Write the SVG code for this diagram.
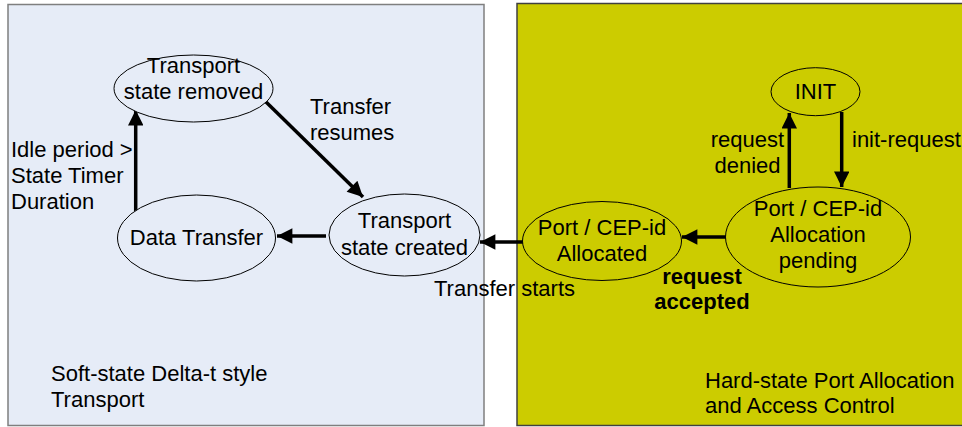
<svg xmlns="http://www.w3.org/2000/svg" width="962" height="427" viewBox="0 0 962 427">
<defs>
<marker id="ah" viewBox="0 0 10 10" refX="10" refY="5" markerWidth="5" markerHeight="4.4" markerUnits="strokeWidth" orient="auto">
<path d="M0,0 L10,5 L0,10 z" fill="#000"/>
</marker>
<style>
text{font-family:"Liberation Sans",Arial,sans-serif;font-size:22px;fill:#000}
.c{text-anchor:middle}
.b{font-weight:bold}
.node{stroke:#000;stroke-width:1}
.soft{fill:#e6ecf7}
.hard{fill:#cccc00}
.edge{stroke:#000;stroke-width:3.5;fill:none;marker-end:url(#ah)}
</style>
</defs>
<rect width="962" height="427" fill="#fff"/>
<g id="panel-soft">
<rect x="8" y="4.5" width="476" height="421" fill="#e6ecf7" stroke="#7f7f7f" stroke-width="1.5"/>
<text x="51" y="381">Soft-state Delta-t style</text>
<text x="51" y="407">Transport</text>
</g>
<g id="panel-hard">
<rect x="517" y="3.5" width="460" height="422" fill="#cccc00" stroke="#404040" stroke-width="1.5"/>
<text x="705" y="388">Hard-state Port Allocation</text>
<text x="705" y="413">and Access Control</text>
</g>
<g id="connectors">
<line class="edge" x1="135.7" y1="211" x2="135.7" y2="110"/>
<line class="edge" x1="264" y1="100" x2="363" y2="197"/>
<line class="edge" x1="326" y1="236" x2="277" y2="236"/>
<line class="edge" x1="523" y1="242" x2="480" y2="242"/>
<line class="edge" x1="726.5" y1="237" x2="682" y2="237"/>
<line class="edge" x1="789.3" y1="188" x2="789.3" y2="113"/>
<line class="edge" x1="841.7" y1="112" x2="841.7" y2="187"/>
<text x="11" y="157">Idle period &gt;</text>
<text x="11" y="183">State Timer</text>
<text x="11" y="209">Duration</text>
<text x="310" y="114">Transfer</text>
<text x="310" y="140">resumes</text>
<text x="434" y="296">Transfer starts</text>
<text class="c b" x="702" y="284">request</text>
<text class="c b" x="702" y="309">accepted</text>
<text class="c" x="747.5" y="147">request</text>
<text class="c" x="747.5" y="173">denied</text>
<text x="852" y="147">init-request</text>
</g>
<g id="node-removed">
<ellipse class="node soft" cx="193.5" cy="88.5" rx="79.5" ry="33.5"/>
<text class="c" x="193.5" y="73">Transport</text>
<text class="c" x="193.5" y="99">state removed</text>
</g>
<g id="node-datatransfer">
<ellipse class="node soft" cx="196.5" cy="238" rx="79" ry="43"/>
<text class="c" x="196.5" y="245">Data Transfer</text>
</g>
<g id="node-created">
<ellipse class="node soft" cx="404.5" cy="235" rx="75.5" ry="41"/>
<text class="c" x="404.5" y="228">Transport</text>
<text class="c" x="404.5" y="255">state created</text>
</g>
<g id="node-allocated">
<ellipse class="node hard" cx="602" cy="241" rx="79.5" ry="39.5"/>
<text class="c" x="602" y="235">Port / CEP-id</text>
<text class="c" x="602" y="261">Allocated</text>
</g>
<g id="node-pending">
<ellipse class="node hard" cx="818" cy="237" rx="92.5" ry="50"/>
<text class="c" x="818" y="216">Port / CEP-id</text>
<text class="c" x="818" y="242">Allocation</text>
<text class="c" x="818" y="268">pending</text>
</g>
<g id="node-init">
<ellipse class="node hard" cx="815.5" cy="91.7" rx="44.5" ry="24"/>
<text class="c" x="815.5" y="99">INIT</text>
</g>
</svg>
